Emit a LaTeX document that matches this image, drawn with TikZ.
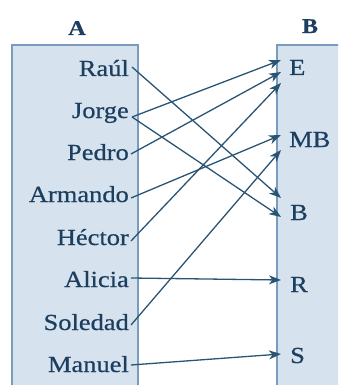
\documentclass[tikz,border=0pt]{standalone}
\usepackage{fontspec}
\setmainfont{Liberation Serif}[FakeStretch=1.15,FakeBold=0.6]
\usetikzlibrary{arrows.meta}
\definecolor{boxfill}{HTML}{D6E2ED}
\definecolor{boxline}{HTML}{7A9BBB}
\definecolor{ink}{HTML}{1C3F60}
\definecolor{wire}{HTML}{2A5474}
\tikzset{
  person/.style={anchor=base east,inner sep=0pt,text=ink,font=\fontsize{23}{26}\selectfont},
  mark grade/.style={anchor=base west,inner sep=0pt,text=ink,font=\fontsize{23}{26}\selectfont},
  heading/.style={anchor=base,inner sep=0pt,text=ink,font=\fontsize{21}{24}\selectfont\bfseries},
  arr/.style={wire,line width=1.3pt,-{Stealth[length=12pt,width=9pt,inset=3.5pt]}},
  panel/.style={fill=boxfill},
  rim/.style={draw=boxline,line width=1.4pt}
}
\begin{document}
\begin{tikzpicture}[x=1pt,y=-1pt]
\useasboundingbox (0,0) rectangle (338,385);
\clip (0,0) rectangle (338,385);
% panels
\fill[panel] (12,45) rectangle (138,395);
\draw[rim] (12,395) -- (12,45) -- (138,45) -- (138,395);
\fill[panel] (277,45) rectangle (345,395);
\draw[rim] (277,395) -- (277,45) -- (345,45);
% titles
\node[heading] (A) at (77,35) {A};
\node[heading] (B) at (310,33) {B};
% left names
\node[person] (raul) at (129,76) {Raúl};
\node[person] (jorge) at (129,118) {Jorge};
\node[person] (pedro) at (129,160) {Pedro};
\node[person] (armando) at (129,202) {Armando};
\node[person] (hector) at (129,245) {Héctor};
\node[person] (alicia) at (129,287) {Alicia};
\node[person] (soledad) at (129,330) {Soledad};
\node[person] (manuel) at (129,372) {Manuel};
% right grades
\node[mark grade] (E) at (289,75) {E};
\node[mark grade] (MB) at (289,147) {MB};
\node[mark grade] (Bg) at (290,220) {B};
\node[mark grade] (R) at (290,292) {R};
\node[mark grade] (S) at (290,363) {S};
% connectors
\draw[arr] ([xshift=3pt,yshift=9pt]raul.base east) -- ([xshift=-9pt,yshift=22pt]Bg.base west);
\draw[arr] ([xshift=3pt,yshift=1pt]jorge.base east) -- ([xshift=-8pt,yshift=15pt]E.base west);
\draw[arr] ([xshift=3pt,yshift=1pt]jorge.base east) -- ([xshift=-9pt,yshift=3pt]Bg.base west);
\draw[arr] ([xshift=2pt,yshift=6pt]pedro.base east) -- ([xshift=-8pt,yshift=3pt]E.base west);
\draw[arr] ([xshift=2pt,yshift=4pt]armando.base east) -- ([xshift=-8pt,yshift=12pt]MB.base west);
\draw[arr] ([xshift=2pt,yshift=4pt]hector.base east) -- ([xshift=-8pt,yshift=-8pt]E.base west);
\draw[arr] ([xshift=2pt,yshift=9pt]alicia.base east) -- ([xshift=-9pt,yshift=12pt]R.base west);
\draw[arr] ([xshift=2pt,yshift=5pt]soledad.base east) -- ([xshift=-8pt,yshift=-3pt]MB.base west);
\draw[arr] ([xshift=2pt,yshift=7pt]manuel.base east) -- ([xshift=-9pt,yshift=9pt]S.base west);
\end{tikzpicture}
\end{document}
